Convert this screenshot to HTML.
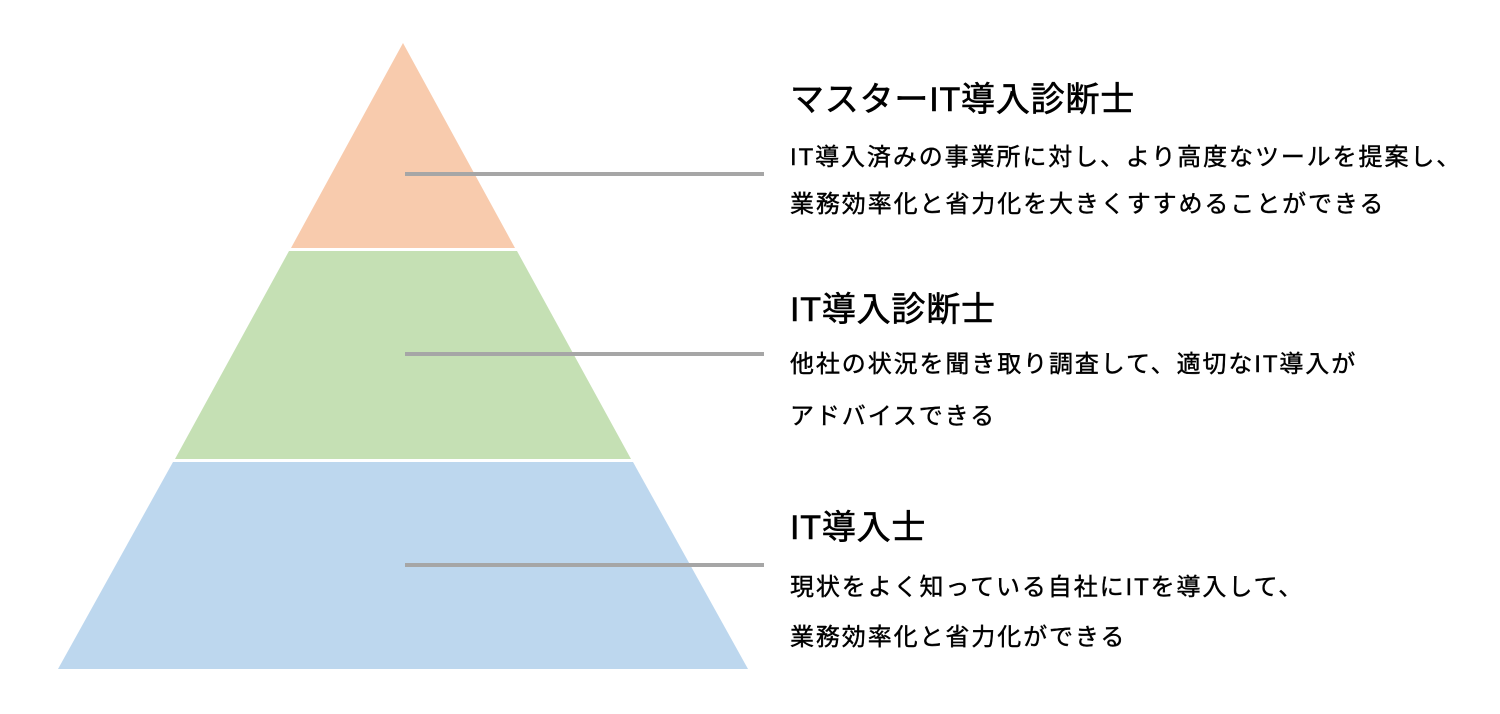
<!DOCTYPE html>
<html><head><meta charset="utf-8"><style>
html,body{margin:0;padding:0;background:#fff;width:1500px;height:714px;overflow:hidden}
body{position:relative;font-family:"Liberation Sans","Noto Sans CJK JP",sans-serif;color:#000}
.t{position:absolute;left:790px;white-space:nowrap;font-size:34px;line-height:40px;letter-spacing:0.8px;-webkit-text-stroke:0.6px #000}
.b{position:absolute;left:790px;white-space:nowrap;font-size:24px;line-height:30px;letter-spacing:1.9px;-webkit-text-stroke:0.4px #000}
</style></head><body>
<svg width="1500" height="714" style="position:absolute;left:0;top:0">
<polygon points="403,43 515,248 291,248" fill="#f8cbad"/>
<polygon points="289,251 517,251 631,459 175,459" fill="#c5e0b4"/>
<polygon points="173,462 633,462 748,669 58,669" fill="#bdd7ee"/>
<rect x="405" y="172" width="359" height="4" fill="#a6a6a6"/>
<rect x="405" y="352" width="359" height="4" fill="#a6a6a6"/>
<rect x="405" y="563" width="359" height="4" fill="#a6a6a6"/>
</svg>
<div class="t" style="top:80px">マスターIT導入診断士</div>
<div class="b" style="top:143px">IT導入済みの事業所に対し、より高度なツールを提案し、</div>
<div class="b" style="top:190px">業務効率化と省力化を大きくすすめることができる</div>
<div class="t" style="top:290px">IT導入診断士</div>
<div class="b" style="top:350px">他社の状況を聞き取り調査して、適切なIT導入が</div>
<div class="b" style="top:402px">アドバイスできる</div>
<div class="t" style="top:508px">IT導入士</div>
<div class="b" style="top:573px">現状をよく知っている自社にITを導入して、</div>
<div class="b" style="top:623px">業務効率化と省力化ができる</div>
</body></html>
